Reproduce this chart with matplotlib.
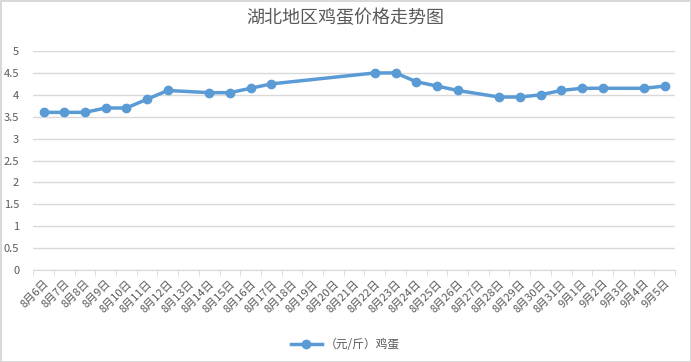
import matplotlib.pyplot as plt
import numpy as np

plt.rcParams['font.family'] = ['Noto Sans CJK SC', 'DejaVu Sans']

# categories (8月6日 .. 9月5日)
dates = ['8月%d日' % d for d in range(6, 32)] + ['9月%d日' % d for d in range(1, 6)]
# price (元/斤), None = no record that day
prices = [3.6, 3.6, 3.6, 3.7, 3.7, 3.9, 4.1, None, 4.05, 4.05, 4.15, 4.25,
          None, None, None, None, 4.5, 4.5, 4.3, 4.2, 4.1, None, 3.95, 3.95,
          4.0, 4.1, 4.15, 4.15, None, 4.15, 4.2]
yticks = [0, 0.5, 1, 1.5, 2, 2.5, 3, 3.5, 4, 4.5, 5]

fig = plt.figure(figsize=(6.91, 3.62), dpi=100)
fig.patch.set_edgecolor('#d9d9d9')
fig.patch.set_linewidth(1)
ax = fig.add_axes([0.048, 0.254, 0.929, 0.605])

xs = [i for i, p in enumerate(prices) if p is not None]
ys = [p for p in prices if p is not None]
ax.plot(xs, ys, color='#5B9BD5', linewidth=2.5, marker='o', markersize=6,
        label='（元/斤）鸡蛋')

ax.set_xlim(-0.5, len(dates) - 0.5)
ax.set_ylim(0, 5)
ax.set_yticks(yticks)
ax.set_yticklabels([('%g' % v) for v in yticks])
ax.grid(axis='y', color='#d9d9d9', linewidth=1)
ax.set_axisbelow(True)

ax.set_xticks(range(len(dates)))
ax.set_xticklabels(dates, rotation=45, ha='right', rotation_mode='anchor')
ax.set_xticks(np.arange(-0.5, len(dates), 1), minor=True)
ax.tick_params(axis='x', which='major', length=0, pad=6, labelsize=8, colors='#595959')
ax.tick_params(axis='x', which='minor', length=4, color='#d9d9d9')
ax.tick_params(axis='y', length=0, labelsize=8, colors='#595959', pad=10)

for s in ['top', 'right', 'left']:
    ax.spines[s].set_visible(False)
ax.spines['bottom'].set_color('#d9d9d9')

fig.suptitle('湖北地区鸡蛋价格走势图', y=0.975, fontsize=13, color='#595959')
fig.legend(loc='lower center', bbox_to_anchor=(0.5, 0.0), frameon=False,
           fontsize=8.5, labelcolor='#595959', handlelength=2.6, handletextpad=0.3)

plt.savefig('out.png', dpi=100)
